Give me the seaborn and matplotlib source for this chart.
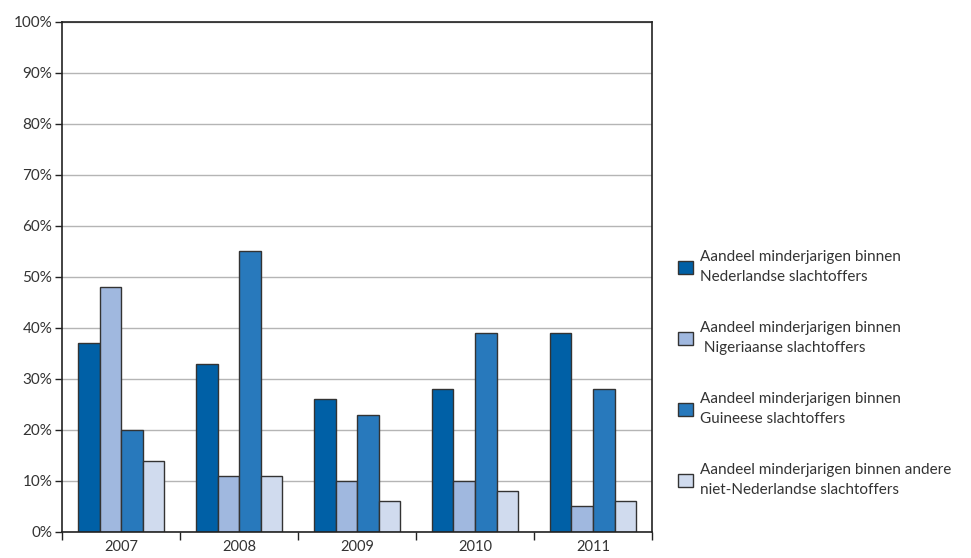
import numpy as np
import pandas as pd
import seaborn as sns
import matplotlib.pyplot as plt
from matplotlib.ticker import FixedLocator

years = ['2007', '2008', '2009', '2010', '2011']
series = [
    'Aandeel minderjarigen binnen\nNederlandse slachtoffers',
    'Aandeel minderjarigen binnen\n Nigeriaanse slachtoffers',
    'Aandeel minderjarigen binnen\nGuineese slachtoffers',
    'Aandeel minderjarigen binnen andere\nniet-Nederlandse slachtoffers',
]
nederlands = [37, 33, 26, 28, 39]
nigeriaans = [48, 11, 10, 10, 5]
guineees = [20, 55, 23, 39, 28]
andere = [14, 11, 6, 8, 6]
colors = ['#0060a6', '#a0b8df', '#2879bc', '#d0dbee']

rows = []
for name, vals in zip(series, [nederlands, nigeriaans, guineees, andere]):
    for y, v in zip(years, vals):
        rows.append({'jaar': y, 'reeks': name, 'pct': v})
df = pd.DataFrame(rows)

sns.set_style('white')
plt.rcParams['font.family'] = ['Lato', 'DejaVu Sans']

fig = plt.figure(figsize=(9.71, 5.58), dpi=100)
ax = fig.add_axes([0.0639, 0.0466, 0.6076, 0.914])

sns.barplot(data=df, x='jaar', y='pct', hue='reeks', palette=colors,
            saturation=1, width=0.73, edgecolor='#333333', linewidth=1,
            ax=ax, legend=True)

ax.set_ylim(0, 100)
ax.set_xlim(-0.5, 4.5)
ax.set_yticks(np.arange(0, 101, 10))
ax.set_yticklabels([f'{v}%' for v in range(0, 101, 10)], fontsize=11, color='#333333')
ax.yaxis.grid(True, color='#b5b5b5', linewidth=1)
ax.set_axisbelow(True)
ax.tick_params(axis='y', length=5, width=1, color='#222222', pad=2, left=True)
ax.tick_params(axis='x', which='major', length=0, labelsize=10.5, labelcolor='#333333', pad=6)
ax.xaxis.set_minor_locator(FixedLocator(np.arange(-0.5, 5, 1)))
ax.tick_params(axis='x', which='minor', length=6, width=1, color='#222222', bottom=True)
ax.set_xlabel('')
ax.set_ylabel('')
for s in ['left', 'right', 'bottom', 'top']:
    ax.spines[s].set_visible(True)
    ax.spines[s].set_color('#222222')
    ax.spines[s].set_linewidth(1.2)

handles, labels = ax.get_legend_handles_labels()
ax.get_legend().remove()
leg = fig.legend(handles, labels, loc='center left', bbox_to_anchor=(0.684, 0.33),
                 frameon=False, fontsize=11, handlelength=1.0, handleheight=1.0,
                 labelspacing=2.42, handletextpad=0.45, labelcolor='#333333')
for t in leg.get_texts():
    t.set_linespacing(1.55)

fig.savefig('out.png', dpi=100)
